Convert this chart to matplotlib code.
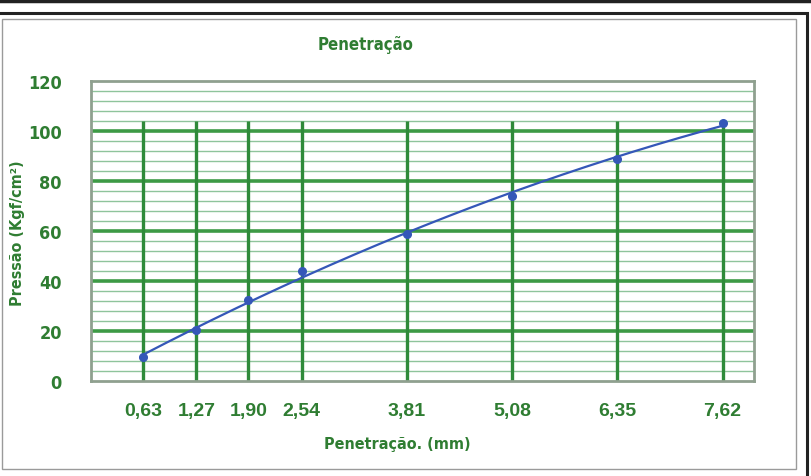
import numpy as np
import matplotlib.pyplot as plt
from matplotlib.patches import Rectangle
from matplotlib.lines import Line2D

# data
penetracao = [0.63, 1.27, 1.90, 2.54, 3.81, 5.08, 6.35, 7.62]
pressao = [9.6, 20.4, 32.4, 44.0, 58.8, 74.0, 88.8, 103.2]
xtick_labels = ['0,63', '1,27', '1,90', '2,54', '3,81', '5,08', '6,35', '7,62']

GREEN_TXT = '#2f7d32'
GREEN_MAJ = '#3d9a45'
GREEN_MIN = '#8fc49c'
BLUE = '#3557b8'
WIDE = ['Liberation Sans', 'DejaVu Sans']

fig = plt.figure(figsize=(8.12, 4.77), dpi=100)
W, H = 812, 477

# page borders
fig.add_artist(Line2D([0, 1], [1 - 2 / H, 1 - 2 / H], color='#222222', lw=2.5))
fig.add_artist(Rectangle((-0.01, -0.05), (807 + 8) / W, (477 - 14) / H + 0.05,
                         fill=False, ec='#222222', lw=2.2, transform=fig.transFigure))
fig.add_artist(Rectangle((2 / W, 7 / H), (796 - 2) / W, (470 - 20) / H,
                         fill=False, ec='#9a9a9a', lw=1.0, transform=fig.transFigure))

ax = fig.add_axes([91 / W, 1 - 382 / H, (754 - 91) / W, (382 - 82) / H])
ax.set_xlim(0, 8)
ax.set_ylim(0, 120)

# grid
for y in np.arange(0, 121, 4):
    if y % 20:
        ax.axhline(y, color=GREEN_MIN, lw=1.0, zorder=1)
for y in np.arange(20, 120, 20):
    ax.axhline(y, color=GREEN_MAJ, lw=2.6, zorder=2)
ax.vlines(penetracao, 0, 104, color='#2f8a3a', lw=2.4, zorder=2)

# trend line (2nd order fit) and points
coef = np.polyfit(penetracao, pressao, 2)
xs = np.linspace(penetracao[0], penetracao[-1], 200)
ax.plot(xs, np.polyval(coef, xs), color=BLUE, lw=1.6, zorder=3)
ax.plot(penetracao, pressao, 'o', color=BLUE, ms=5.5, zorder=4)

for s in ax.spines.values():
    s.set_color('#8fa08f')
    s.set_linewidth(2)

ax.set_xticks(penetracao)
ax.set_xticklabels(xtick_labels, family=WIDE, fontsize=14, fontweight='bold', color=GREEN_TXT)
ax.set_yticks(np.arange(0, 121, 20))
ax.set_yticklabels([str(v) for v in range(0, 121, 20)], family='DejaVu Sans', stretch='condensed',
                   fontsize=13, fontweight='bold', color=GREEN_TXT)
ax.tick_params(axis='x', length=0, pad=15)
ax.tick_params(axis='y', length=0, pad=21)

kw = dict(family='DejaVu Sans', stretch='condensed', fontweight='bold', color=GREEN_TXT)
fig.text(366 / W, 1 - 45 / H, 'Penetração', ha='center', va='center', fontsize=12, **kw)
fig.text(397 / W, 1 - 445 / H, 'Penetração. (mm)', ha='center', va='center', fontsize=11.5, **kw)
fig.text(18 / W, 1 - 233 / H, 'Pressão (Kgf/cm²)', ha='center', va='center', rotation=90,
         fontsize=11.5, **kw)

fig.savefig('out.png', dpi=100, facecolor='white')
